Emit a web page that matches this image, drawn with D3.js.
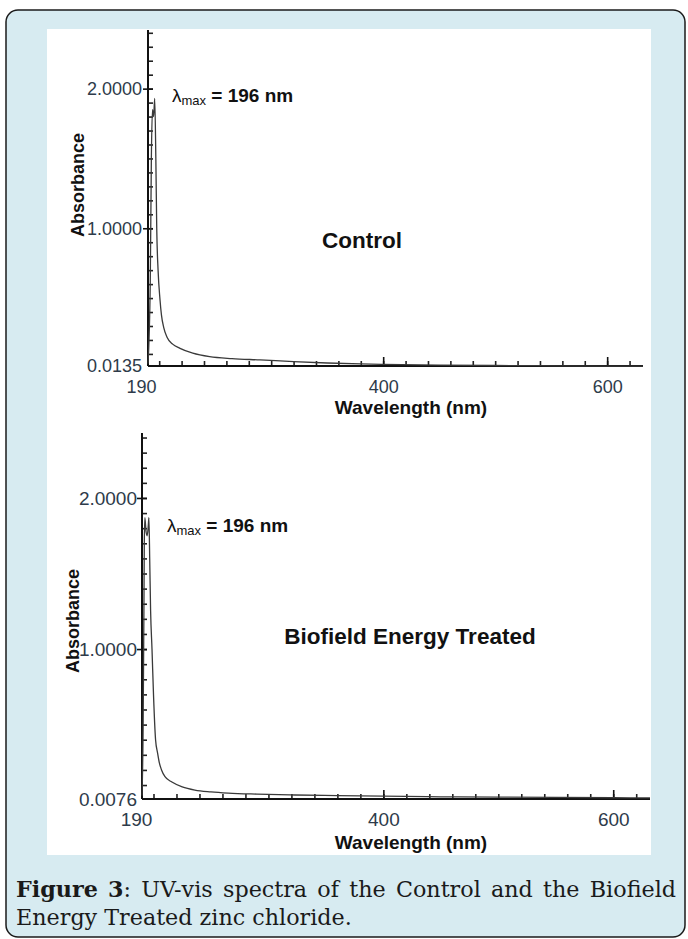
<!DOCTYPE html>
<html>
<head>
<meta charset="utf-8">
<script src="https://cdn.jsdelivr.net/npm/d3@7"></script>
<style>
body { margin: 0; background: #fff; }
</style>
</head>
<body>
<div id="chart"></div>
<script>
// control spectrum
const controlNm  = [190, 192, 193, 194, 195, 196, 197, 197.8, 199, 200.7, 202, 204, 207, 212, 218.6, 230, 245, 265, 290, 320, 350, 380, 400, 450, 500, 550, 600, 632];
const controlAbs = [0.03, 0.6, 1.5, 1.85, 1.8, 1.93, 1.5, 1.0, 0.7, 0.49, 0.38, 0.29, 0.22, 0.17, 0.14, 0.105, 0.08, 0.066, 0.057, 0.045, 0.035, 0.028, 0.025, 0.02, 0.017, 0.015, 0.013, 0.012];

// biofield energy treated spectrum
const treatedNm  = [190, 191, 191.7, 192, 192.5, 193.5, 194.5, 195.5, 196, 196.7, 197.5, 198.7, 200, 201.8, 203.6, 205, 207, 210, 216, 225, 236, 250, 265, 290, 323, 360, 400, 450, 500, 550, 600, 632];
const treatedAbs = [0.03, 0.5, 1.3, 1.7, 1.87, 1.78, 1.75, 1.82, 1.87, 1.6, 1.25, 1.0, 0.7, 0.4, 0.31, 0.25, 0.2, 0.155, 0.12, 0.088, 0.067, 0.055, 0.047, 0.04, 0.034, 0.03, 0.026, 0.022, 0.02, 0.018, 0.016, 0.015];

const xDomain = [190, 632];
const xMajorTicks = [190, 400, 600];
const xMinorTicks = d3.range(200, 621, 20);
const yMinorTicks = d3.range(0.1, 2.41, 0.1);
const controlYTicks = [0.0135, 1, 2];
const treatedYTicks = [0.0076, 1, 2];

// caption words, [text, bold] pieces per word
const captionLine1 = [
  [['Figure', true]], [['3', true], [':', false]], [['UV-vis', false]], [['spectra', false]],
  [['of', false]], [['the', false]], [['Control', false]], [['and', false]], [['the', false]], [['Biofield', false]]
];
const captionLine2 = 'Energy Treated zinc chloride.';

const W = 688, H = 939;
const sans = '"Liberation Sans", Arial, sans-serif';

const svg = d3.select('#chart').append('svg')
  .attr('width', W)
  .attr('height', H)
  .attr('font-family', sans);

// frame
svg.append('rect')
  .attr('x', 6).attr('y', 10)
  .attr('width', 679).attr('height', 927)
  .attr('rx', 12)
  .attr('fill', '#d7ebf1')
  .attr('stroke', '#1b1b1b')
  .attr('stroke-width', 1.5);

svg.append('rect')
  .attr('x', 47).attr('y', 29)
  .attr('width', 604).attr('height', 826)
  .attr('fill', '#fff');

const panels = [
  {
    nm: controlNm, abs: controlAbs, yTicks: controlYTicks,
    xRange: [148, 643], yRange: [366, 30], yDomain: [0.0135, 2.42],
    fs: 18, labelDx: -7, labelX: -6,
    title: 'Control', titleX: 362, titleY: 248,
    lamX: 172, lamY: 102, absX: 84, absY: 185, wlY: 414
  },
  {
    nm: treatedNm, abs: treatedAbs, yTicks: treatedYTicks,
    xRange: [142, 650], yRange: [799, 433], yDomain: [0.0076, 2.43],
    fs: 19, labelDx: -6, labelX: -5,
    title: 'Biofield Energy Treated', titleX: 410, titleY: 644,
    lamX: 167, lamY: 532, absX: 79, absY: 621, wlY: 849
  }
];

panels.forEach(p => {
  const x = d3.scaleLinear().domain(xDomain).range(p.xRange);
  const y = d3.scaleLinear().domain(p.yDomain).range(p.yRange);
  const g = svg.append('g');

  // minor ticks on y, pointing inward
  g.append('g')
    .attr('transform', `translate(${p.xRange[0]},0)`)
    .call(d3.axisLeft(y).tickValues(yMinorTicks).tickSize(-5).tickFormat(''))
    .call(a => a.select('.domain').remove())
    .selectAll('line').attr('stroke', '#222').attr('stroke-width', 1.6);

  // labelled y ticks
  const yAxis = g.append('g')
    .attr('transform', `translate(${p.xRange[0]},0)`)
    .call(d3.axisLeft(y).tickValues(p.yTicks).tickSizeInner(5).tickSizeOuter(0)
      .tickFormat(d3.format('.4f')));
  yAxis.select('.domain')
    .attr('d', `M0,${p.yRange[0]}V${p.yRange[1]}`)
    .attr('stroke', '#111').attr('stroke-width', 2);
  yAxis.selectAll('.tick line')
    .attr('x1', 5)
    .attr('stroke', '#111').attr('stroke-width', 1.6)
    .filter(d => d === p.yTicks[0]).remove();
  yAxis.selectAll('.tick text')
    .attr('x', p.labelX)
    .attr('fill', '#2e3b4a')
    .attr('font-size', p.fs)
    .attr('font-family', sans);

  // minor ticks on x, pointing up
  g.append('g')
    .attr('transform', `translate(0,${p.yRange[0]})`)
    .call(d3.axisBottom(x).tickValues(xMinorTicks).tickSize(-5).tickFormat(''))
    .call(a => a.select('.domain').remove())
    .selectAll('line').attr('stroke', '#222').attr('stroke-width', 1.6);

  // labelled x ticks
  const xAxis = g.append('g')
    .attr('transform', `translate(0,${p.yRange[0]})`)
    .call(d3.axisBottom(x).tickValues(xMajorTicks).tickSizeInner(-9).tickSizeOuter(0).tickPadding(14));
  xAxis.select('.domain')
    .attr('d', `M${p.xRange[0]},0H${p.xRange[1]}`)
    .attr('stroke', '#111').attr('stroke-width', 2);
  xAxis.selectAll('.tick line')
    .attr('stroke', '#111').attr('stroke-width', 1.6)
    .filter(d => d === xMajorTicks[0]).remove();
  xAxis.selectAll('.tick text')
    .attr('fill', '#2e3b4a')
    .attr('font-size', p.fs)
    .attr('font-family', sans)
    .attr('dx', d => d === xMajorTicks[0] ? p.labelDx : 0);

  // spectrum
  const pts = p.nm.map((d, i) => [d, p.abs[i]]);
  g.append('path')
    .datum(pts)
    .attr('fill', 'none')
    .attr('stroke', '#3a3a3a')
    .attr('stroke-width', 1.3)
    .attr('d', d3.line().x(d => x(d[0])).y(d => y(d[1])).curve(d3.curveMonotoneX));

  // lambda max note
  const lam = g.append('text')
    .attr('x', p.lamX).attr('y', p.lamY)
    .attr('fill', '#111')
    .attr('font-size', 19);
  lam.append('tspan').text('λ');
  lam.append('tspan').attr('font-size', 13).attr('dy', 3).text('max');
  lam.append('tspan').attr('dy', -3).attr('font-weight', 'bold').text(' = 196 nm');

  g.append('text')
    .attr('x', p.titleX).attr('y', p.titleY)
    .attr('text-anchor', 'middle')
    .attr('font-weight', 'bold')
    .attr('font-size', 22.5)
    .attr('fill', '#111')
    .text(p.title);

  g.append('text')
    .attr('transform', `translate(${p.absX},${p.absY}) rotate(-90)`)
    .attr('text-anchor', 'middle')
    .attr('font-weight', 'bold')
    .attr('font-size', 18)
    .attr('fill', '#111')
    .text('Absorbance');

  g.append('text')
    .attr('x', 411).attr('y', p.wlY)
    .attr('text-anchor', 'middle')
    .attr('font-weight', 'bold')
    .attr('font-size', 19)
    .attr('fill', '#111')
    .text('Wavelength (nm)');
});

// caption: size set so the second line runs to x≈352, first line justified word by word
const capFont = '"DejaVu Serif", "Liberation Serif", serif';
const capG = svg.append('g')
  .style('font-family', capFont)
  .attr('font-size', 20)
  .attr('fill', '#1a1a1a');

const line2 = capG.append('text')
  .attr('x', 16).attr('y', 925)
  .text(captionLine2);
const capSize = 20 * 336 / line2.node().getComputedTextLength();
capG.attr('font-size', capSize);

const words = captionLine1.map(parts => {
  const t = capG.append('text').attr('y', 897);
  parts.forEach(([s, b]) => t.append('tspan').attr('font-weight', b ? 'bold' : 'normal').text(s));
  return t;
});
const widths = words.map(t => t.node().getComputedTextLength());
const gap = (660 - d3.sum(widths)) / (words.length - 1);
let cx = 16;
words.forEach((t, i) => { t.attr('x', cx); cx += widths[i] + gap; });
</script>
</body>
</html>
